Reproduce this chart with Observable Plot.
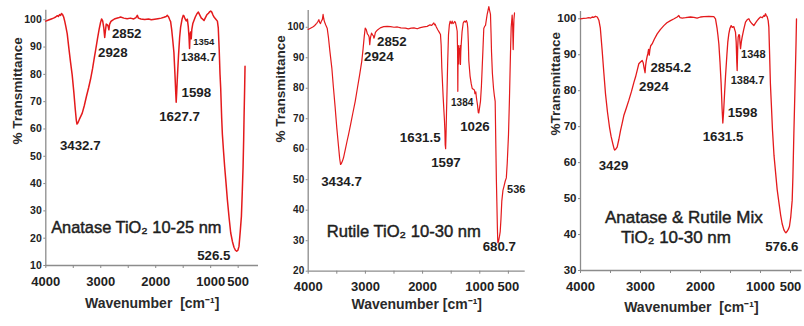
<!DOCTYPE html>
<html><head><meta charset="utf-8">
<script src="https://cdn.jsdelivr.net/npm/d3@7"></script>
<script src="https://cdn.jsdelivr.net/npm/@observablehq/plot@0.6"></script>
<style>
body{margin:0;background:#fff;}
#wrap{display:flex;width:804px;height:326px;overflow:hidden;background:#fff;}
#wrap svg{display:block;flex:none;}
</style></head><body><div id="wrap"></div>
<script>
// ---- data: [wavenumber cm-1, % transmittance] ----
const anataseSpectrum = [[4000,99.5],[3950,99.9],[3900,100.3],[3860,100.6],[3820,101.0],[3790,101.5],[3770,101.2],[3750,101.9],[3730,101.6],[3715,102.3],[3695,101.9],[3675,101.0],[3655,99.4],[3635,97.5],[3610,94.8],[3580,89.5],[3550,84.5],[3520,79.8],[3490,73.5],[3465,67.5],[3445,63.2],[3432.7,61.8],[3415,62.3],[3390,63.5],[3360,64.8],[3337,65.8],[3300,68.5],[3260,72.0],[3220,75.2],[3186,78.2],[3150,82.0],[3120,85.8],[3095,88.7],[3060,93.0],[3030,96.5],[3004,99.0],[2985,100.3],[2965,99.6],[2945,97.0],[2928,93.5],[2915,96.0],[2900,98.4],[2880,98.1],[2865,97.6],[2852,96.3],[2840,98.3],[2815,99.4],[2790,99.8],[2740,100.4],[2680,100.7],[2640,101.0],[2580,100.6],[2520,100.4],[2460,100.6],[2400,100.3],[2360,100.8],[2335,101.6],[2315,100.6],[2270,100.3],[2200,100.1],[2130,100.3],[2080,100.0],[2020,100.2],[1960,100.4],[1900,100.6],[1850,100.9],[1810,101.2],[1789,101.6],[1765,101.0],[1745,100.0],[1729,99.3],[1710,96.5],[1690,92.5],[1669,88.0],[1650,80.0],[1635,73.0],[1627.7,69.8],[1618,73.5],[1608,78.0],[1598,82.0],[1585,87.0],[1565,93.5],[1547,97.3],[1520,100.3],[1500,101.6],[1486,101.4],[1465,100.3],[1445,99.6],[1425,100.2],[1408,97.5],[1395,94.0],[1384.7,89.5],[1375,94.5],[1366,95.5],[1354,93.0],[1343,96.5],[1325,98.6],[1304,99.7],[1280,101.0],[1250,102.2],[1224,102.8],[1200,101.8],[1170,100.6],[1145,100.2],[1122,99.7],[1100,100.6],[1070,101.8],[1040,102.4],[1015,103.0],[1000,103.2],[980,102.8],[960,101.8],[940,101.0],[910,100.3],[878,99.5],[862,97.0],[845,89.0],[830,80.0],[818,75.0],[800,64.0],[787,58.0],[765,51.5],[745,46.0],[720,40.0],[696,34.0],[665,27.5],[636,22.0],[605,18.8],[576,16.7],[550,15.6],[526.5,15.2],[505,15.6],[485,17.0],[462,22.5],[441,28.0],[425,37.0],[411,46.0],[400,56.0],[393,64.0],[383,74.0],[375,83.0]];

const rutileSpectrum = [[4000,99.3],[3960,99.7],[3920,100.1],[3890,100.5],[3872,100.9],[3850,101.3],[3830,101.9],[3814,102.5],[3800,101.6],[3785,101.2],[3770,102.0],[3752,102.6],[3740,104.2],[3728,102.8],[3715,101.8],[3695,100.8],[3668,99.7],[3645,96.5],[3620,92.0],[3587,86.7],[3560,80.5],[3530,74.0],[3500,67.0],[3470,61.0],[3450,57.0],[3434.7,55.0],[3420,55.3],[3400,56.2],[3383,57.2],[3350,60.0],[3320,62.7],[3295,64.8],[3260,68.0],[3220,71.8],[3178,75.7],[3140,80.0],[3100,84.5],[3063,88.9],[3040,93.0],[3020,97.0],[3003,99.7],[2985,99.2],[2965,97.8],[2945,97.3],[2935,96.8],[2924,94.3],[2912,96.5],[2893,98.1],[2875,97.5],[2860,97.2],[2852,96.4],[2841,96.9],[2825,98.3],[2800,98.9],[2783,99.2],[2740,99.8],[2680,100.2],[2619,100.3],[2560,100.2],[2500,100.0],[2440,100.1],[2380,99.8],[2300,99.7],[2250,99.5],[2200,99.7],[2150,99.8],[2094,99.5],[2040,99.9],[1980,100.1],[1920,100.3],[1870,100.8],[1840,100.6],[1815,101.2],[1804,101.4],[1790,100.8],[1780,101.0],[1760,100.1],[1735,99.2],[1710,98.4],[1687,97.6],[1675,94.0],[1664,86.7],[1650,81.0],[1640,77.0],[1631.5,74.0],[1617,69.2],[1610,66.0],[1605,61.5],[1597,60.2],[1590,65.0],[1582,72.0],[1577,75.7],[1562,88.0],[1547,97.6],[1532,100.8],[1518,102.0],[1500,101.2],[1483,102.0],[1470,101.2],[1455,101.4],[1440,101.9],[1426,101.6],[1410,100.3],[1395,98.7],[1388,92.0],[1384,79.0],[1380,90.0],[1374,94.0],[1367,88.0],[1360,93.0],[1350,92.0],[1344,94.0],[1338,87.8],[1332,92.0],[1326,94.0],[1310,98.5],[1290,101.4],[1270,102.0],[1250,101.7],[1235,102.2],[1220,101.5],[1210,99.8],[1200,95.0],[1192,89.0],[1170,84.0],[1150,81.5],[1133,80.0],[1110,79.6],[1093,79.4],[1085,78.2],[1070,78.8],[1058,76.8],[1040,74.5],[1026,72.0],[1017,71.9],[1005,73.5],[988,75.7],[972,80.5],[958,86.7],[944,93.0],[930,99.6],[915,100.3],[900,100.6],[885,102.5],[871,104.2],[856,105.5],[842,106.8],[828,105.5],[813,104.2],[803,98.0],[795,92.0],[780,85.0],[760,80.0],[745,77.5],[731,75.7],[720,62.0],[710,50.0],[702,43.0],[692,34.0],[685,29.5],[680.7,29.3],[670,30.0],[655,31.5],[643,33.0],[630,37.0],[615,43.0],[595,46.5],[575,48.0],[556,49.5],[536,50.6],[520,55.5],[498,64.8],[482,76.0],[470,86.0],[460,94.0],[451,100.0],[440,102.5],[434,104.0],[426,101.0],[420,96.0],[416,92.7],[410,98.0],[403,102.5],[393,104.7]];

const mixSpectrum = [[4000,100.0],[3950,100.1],[3900,100.2],[3860,100.3],[3830,100.2],[3805,100.5],[3780,100.4],[3750,100.7],[3720,100.5],[3694,99.6],[3670,97.5],[3639,91.2],[3611,85.0],[3583,79.1],[3550,74.0],[3517,69.9],[3490,67.3],[3461,65.2],[3440,63.8],[3429,63.5],[3410,63.8],[3389,64.3],[3360,66.5],[3333,68.9],[3305,71.0],[3278,73.1],[3240,75.0],[3195,77.3],[3150,79.8],[3110,82.3],[3083,83.8],[3050,86.0],[3028,87.5],[3000,88.0],[2972,88.4],[2955,87.8],[2942,86.5],[2924,85.0],[2915,87.0],[2905,88.2],[2890,89.5],[2878,90.3],[2865,91.5],[2854.2,89.9],[2843,91.5],[2830,92.5],[2806,93.0],[2770,94.3],[2722,95.8],[2670,97.0],[2611,98.1],[2560,98.9],[2500,99.5],[2440,100.0],[2389,100.5],[2361,100.9],[2340,100.3],[2306,100.2],[2250,100.3],[2167,100.5],[2110,100.4],[2056,100.2],[2000,100.5],[1944,100.6],[1860,100.7],[1778,100.6],[1750,100.0],[1725,97.5],[1710,95.5],[1694,93.0],[1675,88.0],[1656,81.9],[1640,75.0],[1628,71.0],[1615,74.0],[1598,79.5],[1583,84.0],[1560,90.0],[1545,93.5],[1528,95.8],[1510,97.3],[1489,98.1],[1470,97.6],[1444,97.8],[1430,97.0],[1417,96.3],[1405,93.5],[1395,88.0],[1389,85.6],[1380,92.0],[1372,94.9],[1360,95.6],[1350,95.5],[1340,93.0],[1333,91.7],[1320,93.5],[1306,94.9],[1280,97.0],[1250,99.1],[1220,99.8],[1194,100.0],[1170,99.2],[1140,98.6],[1111,98.1],[1085,98.8],[1056,99.5],[1030,100.0],[1000,100.5],[970,100.3],[944,100.9],[930,100.7],[917,101.4],[903,100.9],[889,100.6],[872,99.5],[861,97.7],[848,90.0],[835,82.0],[820,76.5],[800,69.0],[775,62.0],[750,57.5],[722,52.5],[694,49.0],[665,45.5],[639,43.0],[610,41.3],[590,40.7],[576.6,40.5],[555,40.9],[535,41.5],[517,42.3],[495,45.0],[472,49.5],[460,56.0],[444,68.0],[430,77.5],[417,86.5],[408,93.0],[400,100.0]];

// peak annotations: [text, wavenumber, transmittance]
const anataseLabels = [["3432.7",3374,54.0],["2928",2781,88.1],["2852",2528,94.9],["1627.7",1567,64.6],["1598",1262,73.1],["1384.7",1222,86.1],["1354",1125,91.8],["526.5",943,13.7]];
const rutileLabels = [["2852",2538,95.4],["2924",2766,90.4],["3434.7",3418,49.5],["1631.5",2042,63.8],["1597",1591,55.6],["1384",1308,75.1],["1026",1084,67.5],["680.7",659,27.9],["536",362,46.8]];
const mixLabels = [["3429",3450,59.0],["2924",2778,81.2],["2854.2",2495,86.3],["1631.5",1625,67.1],["1598",1300,74.0],["1384.7",1217,82.8],["1348",1120,90.0],["576.6",645,36.5]];

const anataseTitle = [["Anatase TiO\u2082 10-25 nm",2353,23.7]];
const rutileTitle = [["Rutile TiO\u2082 10-30 nm",2329,32.8]];
const mixTitle = [["Anatase & Rutile Mix",2278,44.8],["TiO\u2082 10-30 nm",2408,39.1]];

const xTicks = [4000,3500,3000,2500,2000,1500,1000,500];
const xTickLabels = [4000,3000,2000,1000,500];
const anataseYTicks = [10,20,30,40,50,60,70,80,90,100];
const rutileYTicks = [20,30,40,50,60,70,80,90,100];
const mixYTicks = [30,40,50,60,70,80,90,100];

// ---- drawing ----
const FONT = "'Liberation Sans', Arial, Helvetica, sans-serif";
const RED = "#e41a1c";
const INK = "#1e1e1e";

function drawPanel(c) {
  return Plot.plot({
    width: c.width, height: 326,
    marginTop: c.mt, marginRight: c.mr, marginBottom: c.mb, marginLeft: c.ml,
    style: {fontFamily: FONT, background: "white", color: INK},
    x: {type: "linear", domain: c.xDomain},
    y: {type: "linear", domain: c.yDomain},
    marks: [
      Plot.ruleX([c.xDomain[0]], {stroke: "#8c8c8c", strokeWidth: 1.3}),
      Plot.ruleY([c.yDomain[0]], {stroke: "#8c8c8c", strokeWidth: 1.3}),
      Plot.axisX({ticks: xTicks, tickFormat: d => xTickLabels.includes(d) ? String(d) : "",
        tickSize: 3, tickPadding: 8, fontSize: 13, fontWeight: "bold", stroke: "#888", fill: "#222", label: null}),
      Plot.axisY({ticks: c.yTicks, tickSize: 2, tickPadding: 2, fontSize: c.yFont, fontWeight: "bold",
        stroke: "#888", fill: "#222", label: null}),
      Plot.line(c.spectrum, {x: d => d[0], y: d => d[1], stroke: RED, strokeWidth: c.lw, strokeLinejoin: "round"}),
      Plot.text(c.labels, {x: d => d[1], y: d => d[2], text: d => d[0],
        fontSize: d => c.sizes[d[0]] ?? 13.3, fontWeight: "bold", fill: INK}),
      Plot.text(c.title, {x: d => d[1], y: d => d[2], text: d => d[0], fontSize: c.titleSize,
        fill: INK, stroke: INK, strokeWidth: 0.45}),
      Plot.text([c.yLabel], {frameAnchor: "left", rotate: -90, dx: c.ylDx, dy: c.ylDy,
        fontSize: 13.5, fontWeight: "bold", fill: "#2a2a2a"}),
      Plot.text([c.xLabel], {frameAnchor: "bottom", dy: c.xlDy, fontSize: 14, fontWeight: "bold", fill: "#2a2a2a"})
    ]
  });
}

const panels = [
  {spectrum: anataseSpectrum, labels: anataseLabels, title: anataseTitle, yTicks: anataseYTicks,
   width: 268, mt: 9.7, mr: 10, mb: 61, ml: 45.3, xDomain: [4000, 130], yDomain: [10, 103.5],
   yFont: 10.5, lw: 1.5, titleSize: 16.4, sizes: {"1354": 9.5, "1384.7": 11.5},
   yLabel: "% Transmittance", ylDx: -28.3, ylDy: 6.6, xLabel: "Wavenumber\u00a0 [cm\u207B\u00B9]", xlDy: 42},
  {spectrum: rutileSpectrum, labels: rutileLabels, title: rutileTitle, yTicks: rutileYTicks,
   width: 267, mt: 10, mr: 10.3, mb: 55.3, ml: 39.7, xDomain: [4000, 206], yDomain: [20, 105.5],
   yFont: 10, lw: 1.2, titleSize: 16.6, sizes: {"1384": 10, "536": 11},
   yLabel: "% Transmittance", ylDx: -28, ylDy: 1.6, xLabel: "Wavenumber [cm\u207B\u00B9]", xlDy: 37.6},
  {spectrum: mixSpectrum, labels: mixLabels, title: mixTitle, yTicks: mixYTicks,
   width: 269, mt: 11.1, mr: 2.3, mb: 56, ml: 45, xDomain: [4000, 305], yDomain: [30, 102],
   yFont: 11.5, lw: 1.3, titleSize: 17, sizes: {"1384.7": 11, "1348": 11},
   yLabel: "%Transmittance", ylDx: -25, ylDy: -5.5, xLabel: "Wavenumber\u00a0 [cm\u207B\u00B9]", xlDy: 41.7}
];

const wrap = document.getElementById("wrap");
for (const p of panels) wrap.appendChild(drawPanel(p));
</script>
</body></html>
